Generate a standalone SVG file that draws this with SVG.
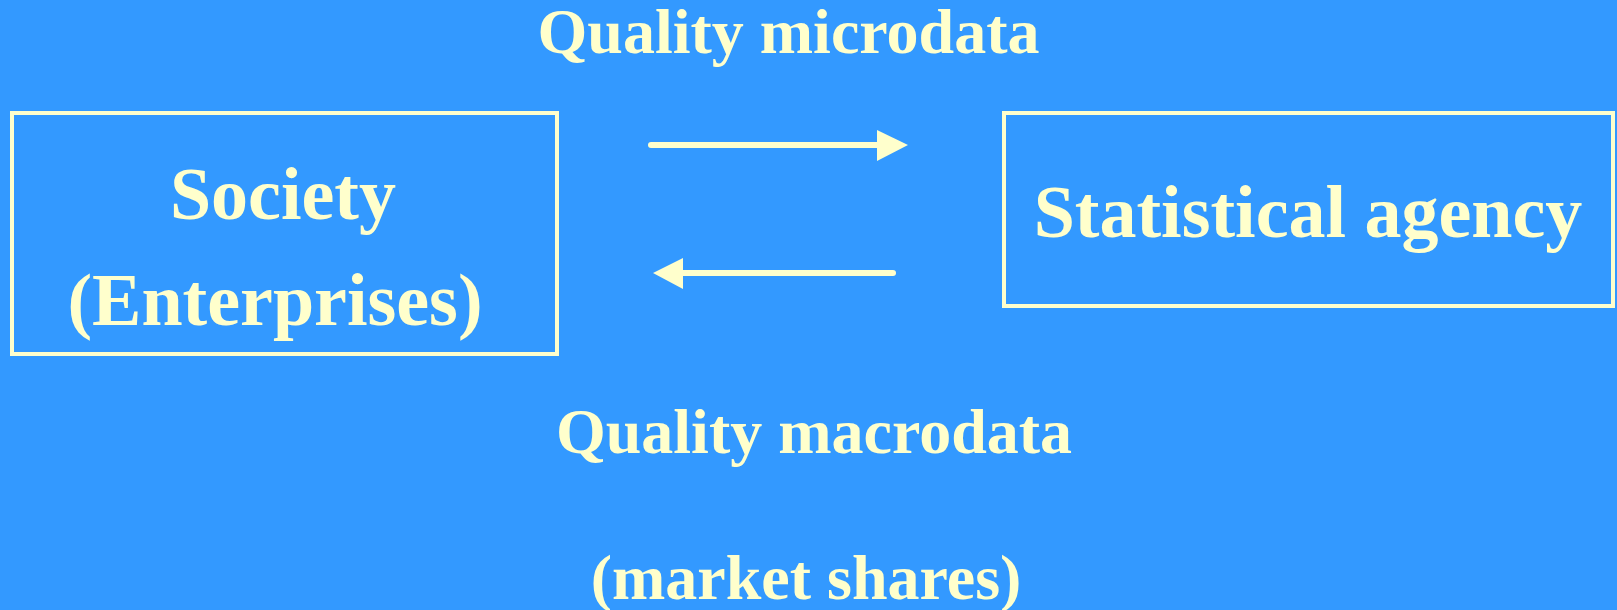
<svg xmlns="http://www.w3.org/2000/svg" width="1617" height="610" viewBox="0 0 1617 610">
<defs>
<style>
.t{font-family:"Liberation Serif","Times New Roman",serif;font-weight:bold;fill:#FFFFCC;text-anchor:middle}
.box{fill:none;stroke:#FFFFCC;stroke-width:4}
.ln{stroke:#FFFFCC;stroke-width:6;stroke-linecap:round;fill:none}
.hd{fill:#FFFFCC}
</style>
</defs>
<rect width="1617" height="610" fill="#3399FF"/>
<g id="label-micro"><text class="t" x="788.5" y="53" font-size="64">Quality microdata</text></g>
<g id="society">
<rect class="box" x="12" y="113" width="545" height="241"/>
<text class="t" x="283" y="219" font-size="74">Society</text>
<text class="t" x="275" y="325" font-size="74">(Enterprises)</text>
</g>
<g id="agency">
<rect class="box" x="1004" y="113" width="609" height="193"/>
<text class="t" x="1308" y="237" font-size="74">Statistical agency</text>
</g>
<g id="connectors">
<line class="ln" x1="651" y1="145" x2="880" y2="145"/>
<polygon class="hd" points="877,130 908,145 877,161"/>
<line class="ln" x1="893" y1="273" x2="680" y2="273"/>
<polygon class="hd" points="683,258 653,273 683,289"/>
</g>
<g id="label-macro">
<text class="t" x="814" y="453" font-size="64">Quality macrodata</text>
<text class="t" x="806" y="599" font-size="64">(market shares)</text>
</g>
</svg>
